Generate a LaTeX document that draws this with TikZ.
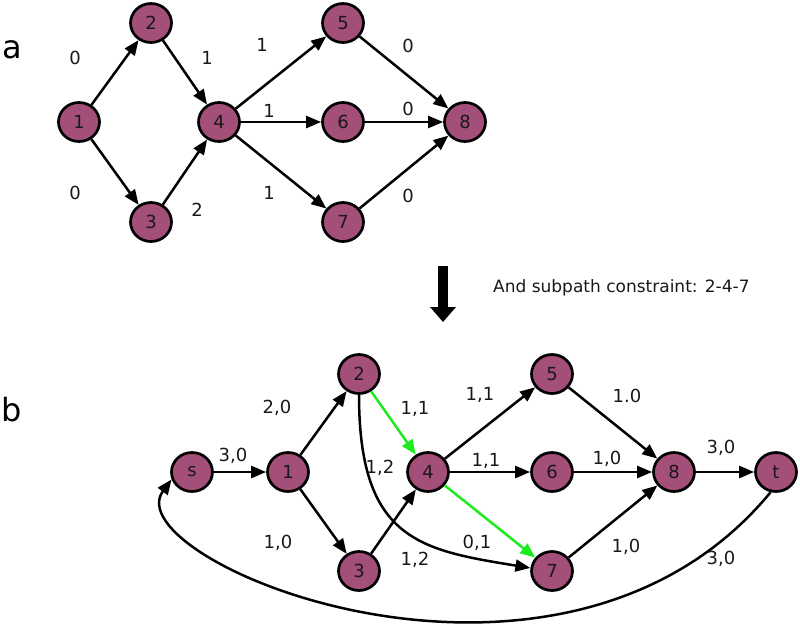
\documentclass[tikz,border=0pt]{standalone}
\usepackage{fontspec}
\setmainfont{DejaVu Sans}
\usepackage{tikz}
\usetikzlibrary{arrows.meta,shapes.geometric}
\definecolor{vfill}{RGB}{164,78,122}
\definecolor{subgreen}{RGB}{28,236,28}

\begin{document}
\begin{tikzpicture}[x=1pt,y=-1pt,
    vert/.style={draw, ellipse, fill=vfill, line width=2.7pt, minimum width=41pt,
                 minimum height=39pt, inner sep=0pt, text=black!90,
                 font=\fontsize{18}{18}\selectfont},
    wt/.style={inner sep=0pt, text=black!90, font=\fontsize{18}{18}\selectfont},
    panel/.style={inner sep=0pt, font=\fontsize{32}{32}\selectfont},
    flow/.style={-{Triangle[length=15pt,width=12pt]}, line width=2.5pt},
    sub/.style={flow, draw=subgreen, fill=subgreen}
  ]
    \useasboundingbox (0,0) rectangle (800,641);

    % a: original graph
    \node[panel] (pa) at (12,50) {a};
    \node[vert] (a1) at (79,122)  {1};
    \node[vert] (a2) at (151,23)  {2};
    \node[vert] (a3) at (151,222) {3};
    \node[vert] (a4) at (219,122) {4};
    \node[vert] (a5) at (343,23)  {5};
    \node[vert] (a6) at (343,122) {6};
    \node[vert] (a7) at (343,222) {7};
    \node[vert] (a8) at (465,122) {8};

    \draw[flow] (a1) -- (a2);
    \draw[flow] (a1) -- (a3);
    \draw[flow] (a2) -- (a4);
    \draw[flow] (a3) -- (a4);
    \draw[flow] (a4) -- (a5);
    \draw[flow] (a4) -- (a6);
    \draw[flow] (a4) -- (a7);
    \draw[flow] (a5) -- (a8);
    \draw[flow] (a6) -- (a8);
    \draw[flow] (a7) -- (a8);

    \node[wt] (wa12) at (75,58)   {0};
    \node[wt] (wa13) at (75,193)  {0};
    \node[wt] (wa24) at (207,58)  {1};
    \node[wt] (wa34) at (197,210) {2};
    \node[wt] (wa45) at (262,45)  {1};
    \node[wt] (wa46) at (269,111) {1};
    \node[wt] (wa47) at (269,193) {1};
    \node[wt] (wa58) at (408,46)  {0};
    \node[wt] (wa68) at (408,109) {0};
    \node[wt] (wa78) at (408,196) {0};

    % transformation
    \coordinate (dtop) at (443,266);
    \coordinate (dtip) at (443,322);
    \draw[line width=10pt, -{Triangle[length=15pt,width=25pt]}] (dtop) -- (dtip);
    \node[wt, anchor=west, font=\fontsize{17}{17}\selectfont] (note) at (493,288)
      {And subpath constraint: 2-4-7};

    % b: flow network
    \node[panel] (pb) at (12,410) {b};
    \node[vert] (bs) at (192,472) {s};
    \node[vert] (b1) at (288,472) {1};
    \node[vert] (b2) at (359,374) {2};
    \node[vert] (b3) at (359,571) {3};
    \node[vert] (b4) at (428,472) {4};
    \node[vert] (b5) at (552,374) {5};
    \node[vert] (b6) at (552,472) {6};
    \node[vert] (b7) at (552,571) {7};
    \node[vert] (b8) at (674,472) {8};
    \node[vert] (bt) at (776,472) {t};

    \draw[flow] (bs) -- (b1);
    \draw[flow] (b1) -- (b2);
    \draw[flow] (b1) -- (b3);
    \draw[sub]  (b2) -- (b4);
    \draw[flow] (b2.south) .. controls (359,540) and (420,550) .. (b7.172);
    \draw[flow] (b3) -- (b4);
    \draw[flow] (b4) -- (b5);
    \draw[flow] (b4) -- (b6);
    \draw[sub]  (b4) -- (b7);
    \draw[flow] (b5) -- (b8);
    \draw[flow] (b6) -- (b8);
    \draw[flow] (b7) -- (b8);
    \draw[flow] (b8) -- (bt);
    \draw[flow] (bt.-105) .. controls (560,748) and (112,560) .. (bs.200);

    \node[wt] (wbs1) at (233,456) {3,0};
    \node[wt] (wb12) at (277,408) {2,0};
    \node[wt] (wb13) at (278,543) {1,0};
    \node[wt] (wb24) at (415,409) {1,1};
    \node[wt] (wb27) at (380,468) {1,2};
    \node[wt] (wb34) at (415,560) {1,2};
    \node[wt] (wb45) at (480,395) {1,1};
    \node[wt] (wb46) at (486,461) {1,1};
    \node[wt] (wb47) at (477,543) {0,1};
    \node[wt] (wb58) at (627,396) {1.0};
    \node[wt] (wb68) at (607,459) {1,0};
    \node[wt] (wb78) at (626,547) {1,0};
    \node[wt] (wb8t) at (721,448) {3,0};
    \node[wt] (wbts) at (721,559) {3,0};
  \end{tikzpicture}
\end{document}
